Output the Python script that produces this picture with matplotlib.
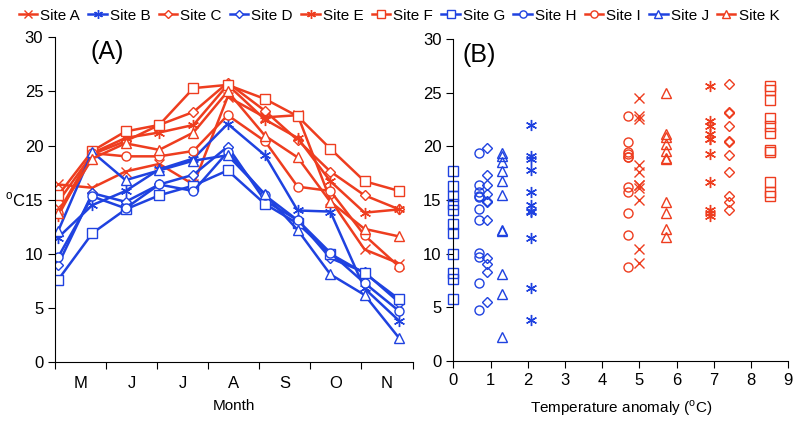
import numpy as np
import matplotlib
matplotlib.use('Agg')
import matplotlib.pyplot as plt

plt.rcParams['font.family'] = ['Liberation Sans', 'DejaVu Sans']

# sampling dates, in months after 1 May
sample_month = [0.06, 0.73, 1.38, 2.04, 2.71, 3.38, 4.11, 4.75, 5.39, 6.06, 6.74]
month_labels = ['M', 'J', 'J', 'A', 'S', 'O', 'N']

sites = ['Site A', 'Site B', 'Site C', 'Site D', 'Site E', 'Site F',
         'Site G', 'Site H', 'Site I', 'Site J', 'Site K']

# mean temperature (oC) per sampling date
site_a = [16.4, 16.1, 17.6, 18.3, 16.4, 24.5, 22.6, 22.8, 15.0, 10.4, 9.1]
site_b = [11.5, 14.5, 15.8, 17.8, 18.8, 22.0, 19.1, 14.0, 13.9, 6.8, 3.8]
site_c = [14.8, 19.2, 20.4, 21.9, 23.1, 25.8, 23.2, 20.5, 17.6, 15.4, 14.1]
site_d = [9.0, 15.6, 14.8, 16.4, 17.3, 19.9, 14.9, 13.1, 9.6, 8.3, 5.5]
site_e = [13.5, 19.3, 20.7, 21.2, 21.9, 25.6, 22.4, 20.7, 16.7, 13.8, 14.1]
site_f = [15.4, 19.5, 21.3, 21.9, 25.3, 25.6, 24.3, 22.7, 19.7, 16.7, 15.8]
site_g = [7.6, 11.9, 14.1, 15.4, 16.3, 17.7, 14.6, 12.8, 10.0, 8.2, 5.8]
site_h = [9.7, 15.3, 14.2, 16.4, 15.8, 19.4, 15.4, 13.1, 10.1, 7.3, 4.7]
site_i = [13.8, 19.3, 19.0, 19.0, 19.5, 22.8, 20.4, 16.2, 15.8, 11.7, 8.8]
site_j = [12.1, 19.4, 16.8, 17.7, 18.6, 19.1, 15.5, 12.2, 8.1, 6.2, 2.2]
site_k = [13.8, 18.8, 20.2, 19.6, 21.2, 25.0, 20.9, 18.9, 14.8, 12.3, 11.6]

# temperature anomaly of each site (oC)
anomaly = [5.0, 2.1, 7.4, 0.9, 6.9, 8.5, 0.0, 0.7, 4.7, 1.3, 5.7]

temps = [site_a, site_b, site_c, site_d, site_e, site_f,
         site_g, site_h, site_i, site_j, site_k]

red = '#ee3d1f'
blue = '#1f42e0'
star = (6, 2, 0)
styles = [(red, 'x', 7), (blue, star, 8), (red, 'D', 5.5), (blue, 'D', 5.5),
          (red, star, 8), (red, 's', 6.5), (blue, 's', 6.5), (blue, 'o', 6.5),
          (red, 'o', 6.5), (blue, '^', 6.5), (red, '^', 6.5)]

fig = plt.figure(figsize=(7.98, 4.23), dpi=100)
axA = fig.add_axes([0.069, 0.144, 0.448, 0.768])
axB = fig.add_axes([0.568, 0.147, 0.420, 0.760])

handles = []
for name, vals, (c, m, ms) in zip(sites, temps, styles):
    h, = axA.plot(sample_month, vals, color=c, marker=m, ms=ms, lw=1.8,
                  mfc='white', mec=c, mew=1.0, label=name)
    handles.append(h)

for vals, x, (c, m, ms) in zip(temps, anomaly, styles):
    axB.plot([x] * len(vals), vals, ls='none', marker=m, ms=ms, mfc='none',
             mec=c, mew=1.0, clip_on=False)

for ax in (axA, axB):
    ax.spines['top'].set_visible(False)
    ax.spines['right'].set_visible(False)
    ax.set_ylim(0, 30)
    ax.set_yticks(range(0, 31, 5))
    ax.tick_params(labelsize=12, length=5, width=0.8, direction='out')

axA.set_xlim(0, 7)
axA.set_xticks(range(8))
axA.set_xticklabels([])
axA.set_xticks(np.arange(0.5, 7, 1), minor=True)
axA.set_xticklabels(month_labels, minor=True)
axA.tick_params(axis='x', which='minor', length=0, labelsize=12, pad=10)
axA.set_xlabel('Month', fontsize=11, labelpad=6)
fig.text(0.006, 1 - 200 / 423, '$^{\\mathregular{o}}$C', fontsize=12,
         ha='left', va='center')
axA.text(0.7, 28.0, '(A)', fontsize=18)

axB.set_xlim(0, 9)
axB.set_xticks(range(10))
axB.set_xlabel('Temperature anomaly ($^{\\mathregular{o}}$C)', fontsize=11, labelpad=8)
axB.text(0.25, 27.9, '(B)', fontsize=18)

fig.legend(handles=handles, loc='upper center', bbox_to_anchor=(0.5, 1.012),
           ncol=11, frameon=False, fontsize=11, handlelength=1.2,
           handletextpad=0.2, columnspacing=0.55, markerscale=0.8)

fig.savefig('out.png', dpi=100)
